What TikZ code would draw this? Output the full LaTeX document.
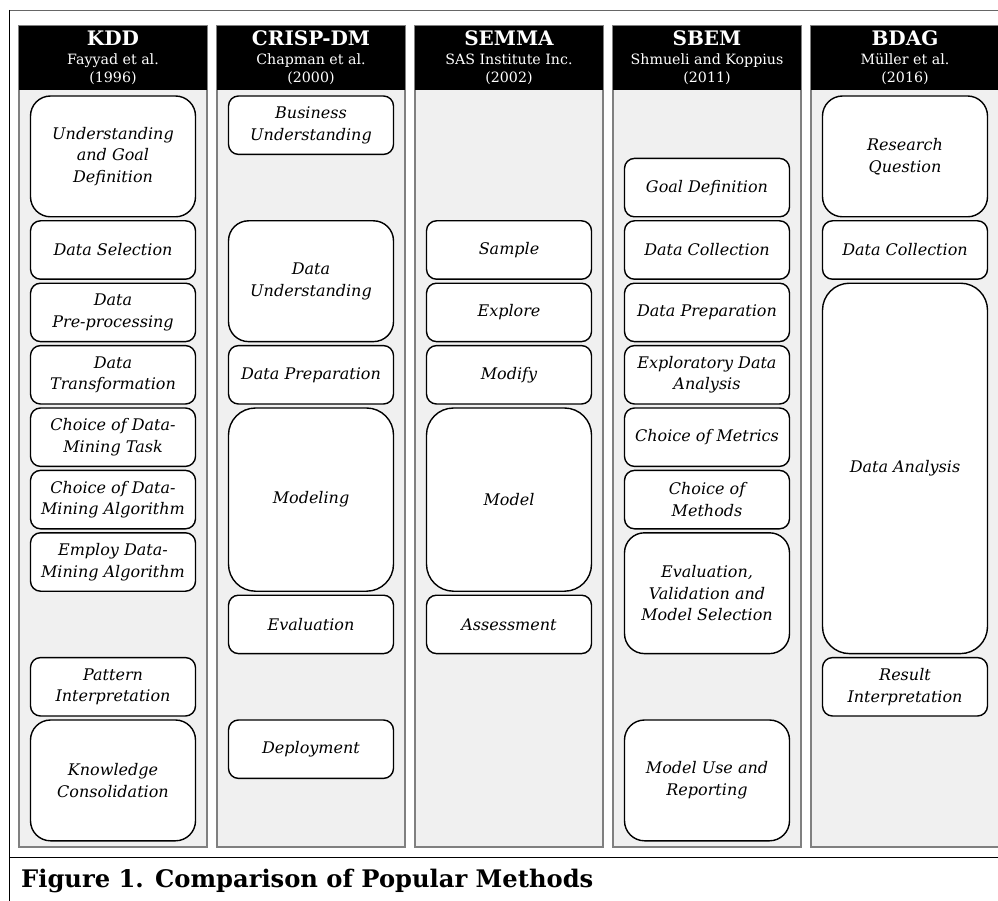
\documentclass[tikz,border=0pt]{standalone}
\usepackage{fontspec}
\setmainfont{DejaVu Serif}
\usetikzlibrary{positioning}

\begin{document}
\begin{tikzpicture}[
    x=1pt, y=-1pt,
    panel/.style={rectangle, draw=black!50, line width=1.6pt, fill=black!6, minimum width=188pt, minimum height=821pt, inner sep=0pt, outer sep=0pt},
    head/.style={rectangle, fill=black, text=white, minimum width=188pt, minimum height=64pt, inner sep=0pt, outer sep=0pt, align=center, font=\fontsize{14.2}{18.5}\selectfont},
    stage/.style={rectangle, draw, line width=1.4pt, fill=white, rounded corners=10pt, minimum width=165pt, minimum height=58.4pt, inner sep=0pt, outer sep=0pt, align=center, font=\fontsize{16}{21.7}\selectfont\itshape},
    span2/.style={minimum height=120.8pt, rounded corners=20pt},
    span3/.style={minimum height=183.2pt, rounded corners=27pt},
    span6/.style={minimum height=370.4pt, rounded corners=27pt},
]
\useasboundingbox (0,0) rectangle (998,901);
\fill[white] (0,0) rectangle (998,901);

% Frame
\draw[black!60, line width=0.8pt] (9,10) -- (998,10);
\draw[line width=0.8pt] (9,10) -- (9,901);
\draw[line width=0.8pt] (9,857) -- (998,857);

% Columns
\node[panel] (kddpanel) at (113,436.5) {};
\node[panel] (crisppanel) at (311,436.5) {};
\node[panel] (semmapanel) at (509,436.5) {};
\node[panel] (sbempanel) at (707,436.5) {};
\node[panel] (bdagpanel) at (905,436.5) {};

% Headers
\node[head] (kddhead) at (113,58) {{\fontsize{20}{19}\selectfont\bfseries KDD}\\Fayyad et al.\\(1996)};
\node[head] (crisphead) at (311,58) {{\fontsize{20}{19}\selectfont\bfseries CRISP-DM}\\Chapman et al.\\(2000)};
\node[head] (semmahead) at (509,58) {{\fontsize{20}{19}\selectfont\bfseries SEMMA}\\SAS Institute Inc.\\(2002)};
\node[head] (sbemhead) at (707,58) {{\fontsize{20}{19}\selectfont\bfseries SBEM}\\Shmueli and Koppius\\(2011)};
\node[head] (bdaghead) at (905,58) {{\fontsize{20}{19}\selectfont\bfseries BDAG}\\Müller et al.\\(2016)};

% KDD
\node[stage, span2, below=6pt of kddhead] (kdd1) {Understanding\\and Goal\\Definition};
\node[stage, below=4pt of kdd1] (kdd2) {Data Selection};
\node[stage, below=4pt of kdd2] (kdd3) {Data\\Pre-processing};
\node[stage, below=4pt of kdd3] (kdd4) {Data\\Transformation};
\node[stage, below=4pt of kdd4] (kdd5) {Choice of Data-\\Mining Task};
\node[stage, below=4pt of kdd5] (kdd6) {Choice of Data-\\Mining Algorithm};
\node[stage, below=4pt of kdd6] (kdd7) {Employ Data-\\Mining Algorithm};
\node[stage, below=66.4pt of kdd7] (kdd8) {Pattern\\Interpretation};
\node[stage, span2, below=4pt of kdd8] (kdd9) {Knowledge\\Consolidation};

% CRISP-DM
\node[stage, below=6pt of crisphead] (crisp1) {Business\\Understanding};
\node[stage, span2, below=66.4pt of crisp1] (crisp2) {Data\\Understanding};
\node[stage, below=4pt of crisp2] (crisp3) {Data Preparation};
\node[stage, span3, below=4pt of crisp3] (crisp4) {Modeling};
\node[stage, below=4pt of crisp4] (crisp5) {Evaluation};
\node[stage, below=66.4pt of crisp5] (crisp6) {Deployment};

% SEMMA
\node[stage, below=130.8pt of semmahead] (semma1) {Sample};
\node[stage, below=4pt of semma1] (semma2) {Explore};
\node[stage, below=4pt of semma2] (semma3) {Modify};
\node[stage, span3, below=4pt of semma3] (semma4) {Model};
\node[stage, below=4pt of semma4] (semma5) {Assessment};

% SBEM
\node[stage, below=68.4pt of sbemhead] (sbem1) {Goal Definition};
\node[stage, below=4pt of sbem1] (sbem2) {Data Collection};
\node[stage, below=4pt of sbem2] (sbem3) {Data Preparation};
\node[stage, below=4pt of sbem3] (sbem4) {Exploratory Data\\Analysis};
\node[stage, below=4pt of sbem4] (sbem5) {Choice of Metrics};
\node[stage, below=4pt of sbem5] (sbem6) {Choice of\\Methods};
\node[stage, span2, below=4pt of sbem6] (sbem7) {Evaluation,\\Validation and\\Model Selection};
\node[stage, span2, below=66.4pt of sbem7] (sbem8) {Model Use and\\Reporting};

% BDAG
\node[stage, span2, below=6pt of bdaghead] (bdag1) {Research\\Question};
\node[stage, below=4pt of bdag1] (bdag2) {Data Collection};
\node[stage, span6, below=4pt of bdag2] (bdag3) {Data Analysis};
\node[stage, below=4pt of bdag3] (bdag4) {Result\\Interpretation};

% Caption
\node[anchor=base west, inner sep=0pt, font=\fontsize{24.2}{24}\selectfont\bfseries] (caption) at (21,887) {Figure 1. Comparison of Popular Methods};
\end{tikzpicture}
\end{document}
